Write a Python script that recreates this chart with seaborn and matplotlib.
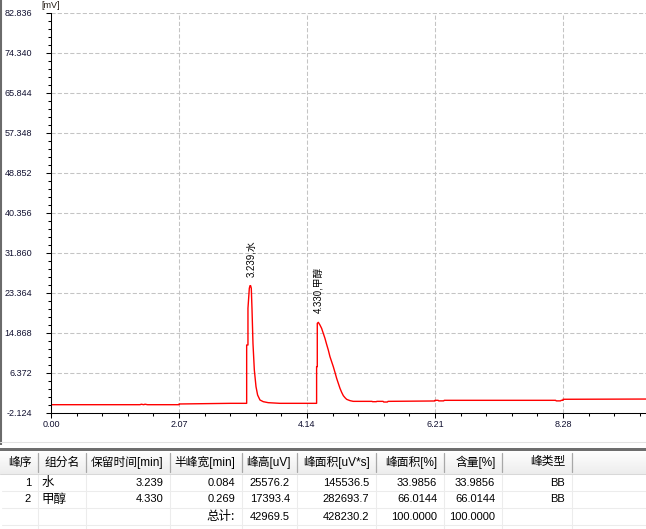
import numpy as np
import pandas as pd
import matplotlib
matplotlib.use("Agg")
import matplotlib.pyplot as plt
import seaborn as sns
from matplotlib.ticker import FixedLocator

# ---------------- data ----------------
time_min = [0.00, 1.44, 1.46, 1.50, 1.52, 1.56, 2.07, 2.07, 2.90, 3.164,
            3.164, 3.185, 3.185, 3.207, 3.218, 3.228, 3.239, 3.250, 3.266, 3.288,
            3.315, 3.341, 3.379, 3.433, 3.513, 3.70, 4.295,
            4.295, 4.306, 4.306, 4.323, 4.349, 4.376, 4.403, 4.430, 4.457,
            4.484, 4.511, 4.538, 4.565, 4.592, 4.619, 4.646, 4.673, 4.700,
            4.727, 4.754, 4.781, 4.835, 4.888, 5.19, 5.20, 5.26, 5.27,
            5.37, 5.38, 5.44, 5.45, 6.21, 6.21, 6.26, 6.27, 6.35, 6.36,
            8.16, 8.17, 8.24, 8.25, 8.28, 8.28, 9.62]
signal_mv = [-0.36, -0.36, -0.26, -0.36, -0.26, -0.36, -0.36, -0.21, -0.07, -0.07,
             12.32, 12.32, 20.11, 24.36, 24.92, 24.92, 24.36, 20.11, 12.67, 7.01,
             3.47, 1.70, 0.64, 0.28, 0.07, -0.07, -0.07,
             7.72, 7.72, 16.92, 17.13, 16.57, 15.86, 14.80, 13.74, 12.46,
             11.26, 9.84, 8.78, 7.72, 6.51, 5.24, 4.18, 3.12, 2.27,
             1.56, 1.13, 0.78, 0.50, 0.35, 0.35, 0.28, 0.28, 0.35,
             0.35, 0.21, 0.21, 0.35, 0.43, 0.57, 0.57, 0.45, 0.45, 0.57,
             0.57, 0.45, 0.45, 0.57, 0.57, 0.79, 0.84]

y_ticks = [-2.124, 6.372, 14.868, 23.364, 31.860, 40.356, 48.852, 57.348, 65.844, 74.340, 82.836]
x_ticks = [0.00, 2.07, 4.14, 6.21, 8.28]
y_unit = "[mV]"

headers = ["峰序", "组分名", "保留时间[min]", "半峰宽[min]", "峰高[uV]",
           "峰面积[uV*s]", "峰面积[%]", "含量[%]", "峰类型"]
peak_no = ["1", "2"]
comp_names = ["水", "甲醇"]
ret_times = [3.239, 4.330]
half_widths = [0.084, 0.269]
peak_heights = [25576.2, 17393.4]
peak_areas = [145536.5, 282693.7]
area_pcts = [33.9856, 66.0144]
content_pcts = [33.9856, 66.0144]
peak_types = ["BB", "BB"]
total_label = "总计:"
total_height = 42969.5
total_area = 428230.2
total_area_pct = 100.0
total_content = 100.0

# ---------------- style ----------------
sns.set_theme(style="white")
plt.rcParams["font.family"] = ["Liberation Sans", "Noto Sans CJK SC", "DejaVu Sans"]
cjk = ["Noto Sans CJK SC", "DejaVu Sans"]
mixed = ["Liberation Sans", "Noto Sans CJK SC"]

W, H = 646, 529
fig = plt.figure(figsize=(W / 100, H / 100), dpi=100)
fig.patch.set_facecolor("white")

# ---------------- chromatogram ----------------
x0_px, px_per_min = 51, 61.84
top_px, bot_px = 13, 413
ax = fig.add_axes([x0_px / W, (H - bot_px) / H, (W - x0_px) / W, (bot_px - top_px) / H])
df = pd.DataFrame({"t": time_min, "mv": signal_mv})
sns.lineplot(data=df, x="t", y="mv", sort=False, estimator=None,
             color="#ff0000", linewidth=1.0, ax=ax)

ax.set_xlim(0, (W - x0_px) / px_per_min)
ax.set_ylim(y_ticks[0], y_ticks[-1])
ax.set_xticks(x_ticks)
ax.set_xticklabels([f"{v:.2f}" for v in x_ticks])
ax.set_yticks(y_ticks)
ax.set_yticklabels([f"{v:.3f}" for v in y_ticks])
ystep = (y_ticks[1] - y_ticks[0]) / 5
ax.yaxis.set_minor_locator(FixedLocator(np.arange(y_ticks[0], y_ticks[-1] + 1e-6, ystep)))
xstep = (x_ticks[1] - x_ticks[0]) / 5
ax.xaxis.set_minor_locator(FixedLocator(np.arange(0, 9.7, xstep)))
ax.tick_params(which="major", direction="out", length=3.6, width=0.75, color="black",
               labelsize=6.5, labelcolor="#101030", left=True, bottom=True)
ax.tick_params(which="minor", direction="out", length=2.2, width=0.75, color="black",
               left=True, bottom=True)
ax.tick_params(axis="y", which="major", pad=10)
ax.tick_params(axis="x", which="major", pad=1.5)
ax.grid(True, which="major", color="#c4c4c4", linestyle=(0, (4, 2)), linewidth=0.75)
ax.set_xlabel("")
ax.set_ylabel("")
for s in ["top", "right"]:
    ax.spines[s].set_visible(False)
for s in ["left", "bottom"]:
    ax.spines[s].set_color("black")
    ax.spines[s].set_linewidth(0.75)
ax.set_facecolor("white")

# peak labels
t_arr = np.array(time_min)
v_arr = np.array(signal_mv)
for rt, nm in zip(ret_times, comp_names):
    win = (t_arr > rt - 0.1) & (t_arr < rt + 0.1)
    top = v_arr[win].max()
    ax.annotate(f"{rt:.3f},{nm}", xy=(rt, top), xytext=(0, 6.5), textcoords="offset points",
                rotation=90, ha="center", va="bottom", fontsize=7,
                family=mixed, color="black")

fig.text(41 / W, 1 - 5.5 / H, y_unit, fontsize=6.5, ha="left", va="center", color="#201810")

# ---------------- table ----------------
tax = fig.add_axes([0, 0, 1, (H - 436) / H])
tax.set_xlim(0, W)
tax.set_ylim(H, 436)
tax.axis("off")

# left window border
tax.plot([1, 1], [436, 445], color="#6b6b6b", lw=1.5, solid_capstyle="butt")
border = fig.add_axes([0, (H - 436) / H, 1, 436 / H])
border.axis("off")
border.set_xlim(0, W)
border.set_ylim(436, 0)
border.plot([1, 1], [0, 436], color="#6b6b6b", lw=1.5, solid_capstyle="butt")

tax.plot([0, W], [442, 442], color="#e2e2e2", lw=0.75)
tax.axhspan(447.5, 450.5, color="#6e6e6e", lw=0)
# header background gradient
grad = np.linspace(1.0, 0.93, 24).reshape(-1, 1)
tax.imshow(np.repeat(grad[:, :, None], 3, axis=2), extent=[0, W, 474, 450.5],
           aspect="auto", interpolation="bilinear", zorder=0)
tax.set_xlim(0, W)
tax.set_ylim(H, 436)

cols = [2, 38, 86, 170, 242, 297, 376, 444, 502, 572]
for c in cols[1:]:
    tax.plot([c, c], [453, 471.5], color="#a8a8a8", lw=0.9)
    tax.plot([c, c], [474, H], color="#ececec", lw=0.75)
tax.plot([0, W], [474, 474], color="#d8d8d8", lw=0.75)
for ry in [491, 508, 525]:
    tax.plot([2, W], [ry, ry], color="#ececec", lw=0.75)

for i, h in enumerate(headers):
    tax.text(cols[i + 1] - 6.5, 462.5, h, ha="right", va="center", fontsize=8.5,
             family=mixed, color="black")

row_y = [482.5, 499.5]
num_fs = 8
for r in range(len(peak_no)):
    y = row_y[r]
    vals = [peak_no[r], None, f"{ret_times[r]:.3f}", f"{half_widths[r]:.3f}",
            f"{peak_heights[r]:.1f}", f"{peak_areas[r]:.1f}", f"{area_pcts[r]:.4f}",
            f"{content_pcts[r]:.4f}", peak_types[r]]
    for i, v in enumerate(vals):
        if i == 1:
            tax.text(cols[1] + 3.5, y, comp_names[r], ha="left", va="center",
                     fontsize=9, family=cjk, color="black")
        else:
            tax.text(cols[i + 1] - 7, y, v, ha="right", va="center", fontsize=num_fs,
                     color="black")

ty = 516.5
tax.text(cols[4] - 7, ty, total_label, ha="right", va="center", fontsize=9, family=cjk,
         color="black")
for i, v in zip([4, 5, 6, 7], [f"{total_height:.1f}", f"{total_area:.1f}",
                               f"{total_area_pct:.4f}", f"{total_content:.4f}"]):
    tax.text(cols[i + 1] - 7, ty, v, ha="right", va="center", fontsize=num_fs, color="black")

fig.savefig("out.png", dpi=100, facecolor="white")
